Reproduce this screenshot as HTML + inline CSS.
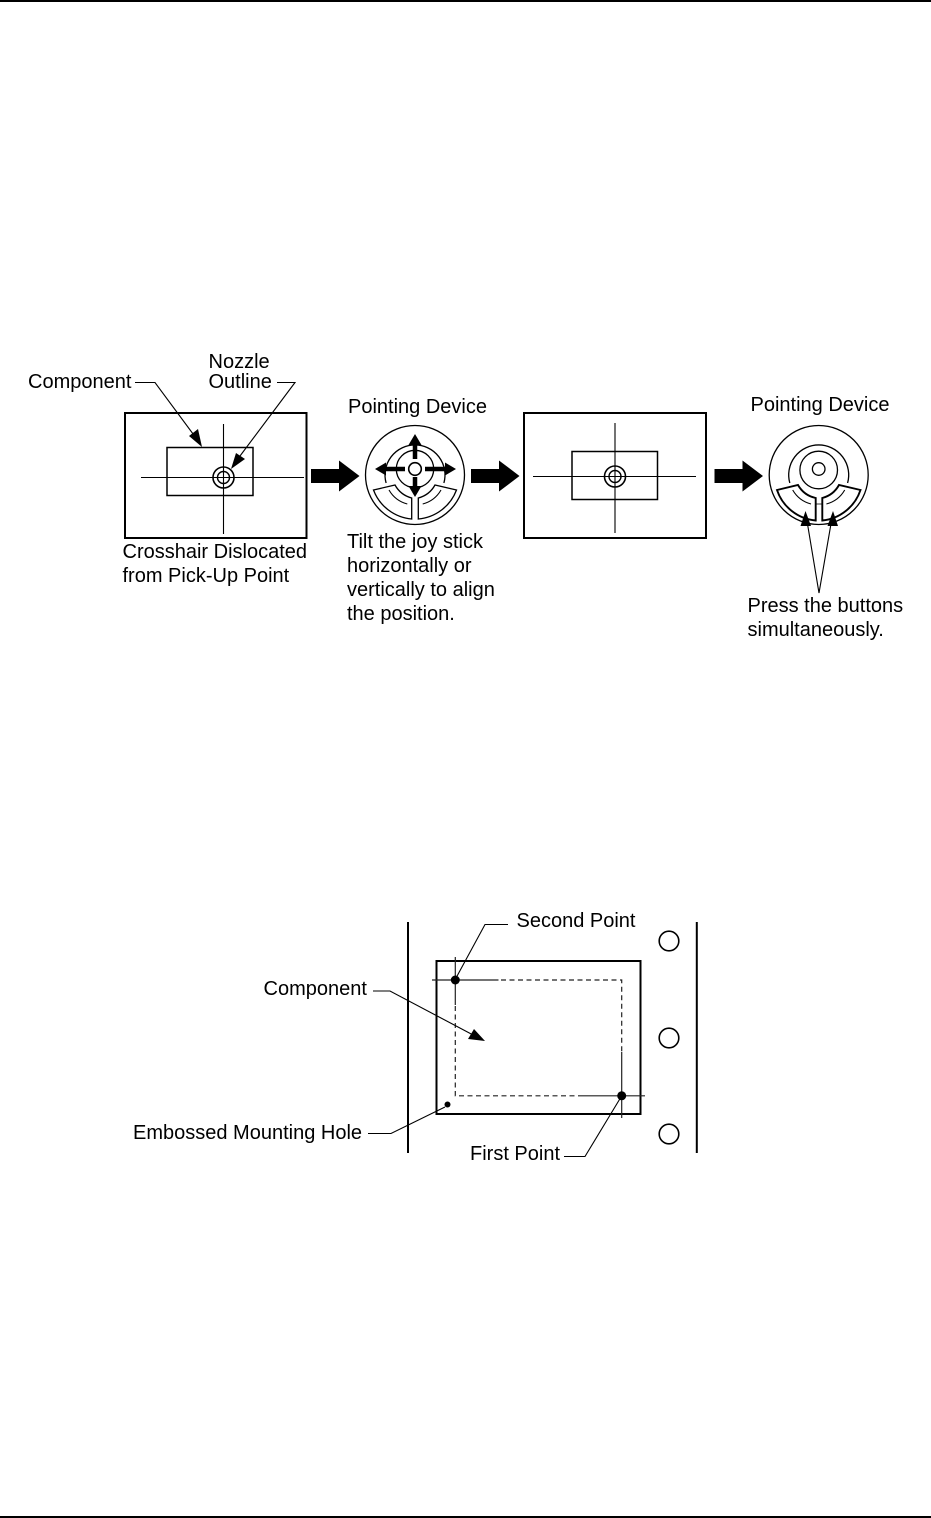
<!DOCTYPE html>
<html>
<head>
<meta charset="utf-8">
<style>
html,body{margin:0;padding:0;background:#fff;}
svg{display:block;}
text{font-family:"Liberation Sans",sans-serif;font-size:20px;fill:#000;}
</style>
</head>
<body>
<svg width="931" height="1518" viewBox="0 0 931 1518" xmlns="http://www.w3.org/2000/svg">
<defs>
<g id="bigarrow"><polygon points="0,-7 28,-7 28,-15.500 48.500,0 28,15.500 28,7 0,7" fill="#000"/></g>
</defs>
<rect x="0" y="0" width="931" height="2" fill="#000"/>
<rect x="0" y="1516" width="931" height="2" fill="#000"/>

<!-- Frame 1 -->
<rect x="125" y="413" width="181.500" height="125" fill="none" stroke="#000" stroke-width="2"/>
<rect x="167" y="447.500" width="86" height="48" fill="none" stroke="#000" stroke-width="1.500"/>
<path d="M223.500 424V534M141 477.500H304" stroke="#000" stroke-width="1.100" fill="none"/>
<circle cx="223.500" cy="477.500" r="10.500" fill="none" stroke="#000" stroke-width="1.600"/>
<circle cx="223.500" cy="477.500" r="6" fill="none" stroke="#000" stroke-width="1.400"/>
<path d="M135 382.500H155L199 442" stroke="#000" stroke-width="1.100" fill="none"/>
<polygon points="202,447 189,436 198,429" fill="#000"/>
<path d="M277 382.500H295L234 464" stroke="#000" stroke-width="1.100" fill="none"/>
<polygon points="231,469 236,453 245,459" fill="#000"/>

<!-- Big arrows -->
<use href="#bigarrow" x="311" y="476"/>
<use href="#bigarrow" x="471" y="476"/>
<use href="#bigarrow" x="714.500" y="476"/>

<!-- Device 1 -->
<g fill="none" stroke="#000">
<circle cx="415" cy="475" r="49.500" stroke-width="1.300"/>
<circle cx="415" cy="469" r="18.700" stroke-width="1.300"/>
<path d="M386.100 483A30 30 0 1 1 443.900 483" stroke-width="1.300"/>
<path d="M389 490A30 30 0 0 0 407.300 504M441 490A30 30 0 0 1 422.700 504" stroke-width="1.100"/>
<path d="M373.500 490L395 485A27 27 0 0 0 411.700 498V519A45 45 0 0 1 373.500 490Z" stroke-width="1.300"/>
<path d="M456.500 490L435 485A27 27 0 0 1 418.300 498V519A45 45 0 0 0 456.500 490Z" stroke-width="1.300"/>
</g>
<path d="M415 443V459M415 477V488M384 469H405M425 469H447" stroke="#000" stroke-width="4.500" fill="none"/>
<polygon points="415,434 421.500,445 408.500,445" fill="#000"/>
<polygon points="415,497 408.500,486 421.500,486" fill="#000"/>
<polygon points="375,469 386,462.500 386,475.500" fill="#000"/>
<polygon points="456,469 445,462.500 445,475.500" fill="#000"/>
<circle cx="415" cy="469" r="6.300" fill="#fff" stroke="#000" stroke-width="1.600"/>

<!-- Frame 2 -->
<rect x="524" y="413" width="182" height="125" fill="none" stroke="#000" stroke-width="2"/>
<rect x="572" y="451.500" width="85.500" height="48" fill="none" stroke="#000" stroke-width="1.500"/>
<path d="M615 423V533M533 476.500H696" stroke="#000" stroke-width="1.100" fill="none"/>
<circle cx="615" cy="476.500" r="10.500" fill="none" stroke="#000" stroke-width="1.600"/>
<circle cx="615" cy="476.500" r="6" fill="none" stroke="#000" stroke-width="1.400"/>

<!-- Device 2 -->
<g fill="none" stroke="#000">
<circle cx="818.700" cy="475" r="49.500" stroke-width="1.300"/>
<circle cx="818.700" cy="469" r="6.300" stroke-width="1.300"/>
<circle cx="818.700" cy="470" r="18.800" stroke-width="1.300"/>
<path d="M789.800 483A30 30 0 1 1 847.600 483" stroke-width="1.300"/>
<path d="M792.700 490A30 30 0 0 0 811 504M844.700 490A30 30 0 0 1 826.400 504" stroke-width="1.100"/>
<path d="M777 490L798 485A27 27 0 0 0 815.700 498V520.500A45 45 0 0 1 777 490Z" stroke-width="1.900"/>
<path d="M860.500 490L839 485A27 27 0 0 1 822.300 498V520.500A45 45 0 0 0 860.500 490Z" stroke-width="1.900"/>
<path d="M815.700 504H822.300" stroke-width="0.800"/>
<path d="M819 593L806.500 518M819 593L832 518" stroke-width="1.100"/>
</g>
<polygon points="805.500,511 811,526 800.500,526" fill="#000"/>
<polygon points="833,511 838,526 827.500,526" fill="#000"/>

<!-- Diagram 2 -->
<path d="M408 922V1153M696.800 922V1153" stroke="#000" stroke-width="2" fill="none"/>
<rect x="436.500" y="961" width="204" height="153" fill="none" stroke="#000" stroke-width="2"/>
<g fill="none" stroke="#000" stroke-width="1.600">
<circle cx="669" cy="941" r="9.800"/>
<circle cx="669" cy="1038" r="9.800"/>
<circle cx="669" cy="1134" r="9.800"/>
</g>
<path d="M455.300 957V1005M432 980H498.500M621.700 1052V1118M578 1095.800H645" stroke="#222" stroke-width="1.200" fill="none"/>
<path d="M501 980H621.700V1052M455.300 1006V1095.800H578" stroke="#222" stroke-width="1.200" stroke-dasharray="5 3.500" fill="none"/>
<circle cx="455.300" cy="980" r="4.500" fill="#000"/>
<circle cx="621.700" cy="1095.800" r="4.500" fill="#000"/>
<circle cx="447.500" cy="1104.500" r="3" fill="#000"/>
<path d="M508 924.500H485L456 978" stroke="#000" stroke-width="1.100" fill="none"/>
<path d="M564 1156.500H585L621 1097" stroke="#000" stroke-width="1.100" fill="none"/>
<path d="M373 991H390L475 1036" stroke="#000" stroke-width="1.100" fill="none"/>
<polygon points="485,1041 468,1039 474,1029" fill="#000"/>
<path d="M368 1133.500H391L445 1107" stroke="#000" stroke-width="1.100" fill="none"/>

<!-- Labels -->
<text x="28" y="388">Component</text>
<text x="208.500" y="368">Nozzle</text>
<text x="208.500" y="388">Outline</text>
<text x="348" y="413">Pointing Device</text>
<text x="750.500" y="411">Pointing Device</text>
<text x="122.500" y="558">Crosshair Dislocated</text>
<text x="122.500" y="582">from Pick-Up Point</text>
<text x="347" y="548">Tilt the joy stick</text>
<text x="347" y="572">horizontally or</text>
<text x="347" y="596">vertically to align</text>
<text x="347" y="620">the position.</text>
<text x="747.500" y="612">Press the buttons</text>
<text x="747.500" y="636">simultaneously.</text>
<text x="516.500" y="927">Second Point</text>
<text x="263.500" y="995">Component</text>
<text x="133" y="1139">Embossed Mounting Hole</text>
<text x="470" y="1160">First Point</text>
</svg>
</body>
</html>
